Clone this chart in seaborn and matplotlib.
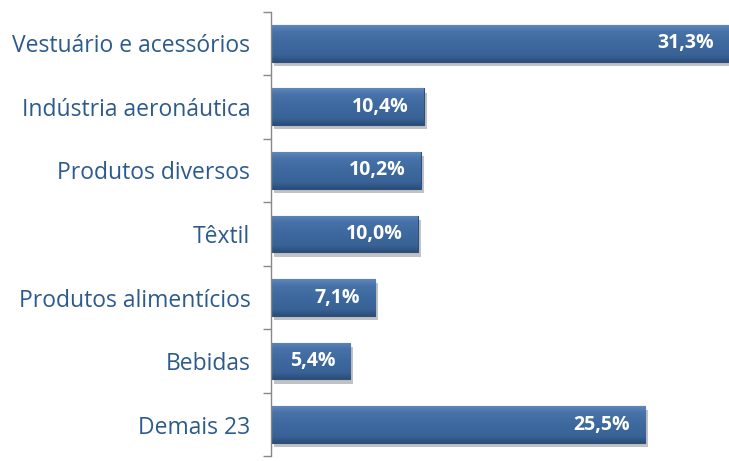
import matplotlib
matplotlib.use("Agg")
import matplotlib.pyplot as plt
import matplotlib.patheffects as pe
import matplotlib.transforms as mtrans
import seaborn as sns
import pandas as pd
import numpy as np

categories = ["Vestuário e acessórios", "Indústria aeronáutica", "Produtos diversos",
              "Têxtil", "Produtos alimentícios", "Bebidas", "Demais 23"]
shares = [31.3, 10.4, 10.2, 10.0, 7.1, 5.4, 25.5]
labels = ["31,3%", "10,4%", "10,2%", "10,0%", "7,1%", "5,4%", "25,5%"]

df = pd.DataFrame({"categoria": categories, "share": shares})

sns.set_style("white")
plt.rcParams["font.family"] = ["Open Sans", "DejaVu Sans"]

fig = plt.figure(figsize=(7.29, 4.61), dpi=100)
ax = fig.add_axes([0.372, 0.01, 0.628, 0.965])

sns.barplot(data=df, y="categoria", x="share", orient="h", color="#3c679c",
            saturation=1, width=0.58, edgecolor="#2c4f7c", linewidth=0.8, ax=ax)

# soft bevel look: vertical gradient clipped to each bar
grad = np.linspace(0, 1, 50).reshape(-1, 1)
cmap = matplotlib.colors.LinearSegmentedColormap.from_list(
    "bev", [(0.0, "#5d86ba"), (0.18, "#4672a8"), (0.5, "#3d699f"),
            (0.82, "#396396"), (1.0, "#2b4e7b")])
for bar in ax.patches:
    bar.set_path_effects([pe.SimplePatchShadow(offset=(2, -3), shadow_rgbFace="#9a9a9a", alpha=0.6),
                          pe.Normal()])
    x0, y0, w, h = bar.get_x(), bar.get_y(), bar.get_width(), bar.get_height()
    im = ax.imshow(grad, cmap=cmap, aspect="auto", extent=(x0, x0 + w, y0 + h, y0),
                   interpolation="bilinear", zorder=bar.get_zorder() + 0.1)
    im.set_clip_path(bar)

off = mtrans.offset_copy(ax.transData, fig=fig, x=-15, y=0, units="dots")
for i, (v, lab) in enumerate(zip(shares, labels)):
    x = min(v, 31.2)
    ax.text(x, i, lab, ha="right", va="center", color="white", transform=off,
            fontsize=14, fontweight="bold", zorder=5)

ax.set_xlim(0, 31.2)
ax.set_ylim(len(categories) - 0.5, -0.5)
ax.set_xlabel("")
ax.set_ylabel("")
ax.set_xticks([])
ax.tick_params(axis="y", which="major", left=False, length=0, pad=15,
               labelsize=16.5, labelcolor="#2c5a8e")
ax.set_yticks(np.arange(-0.5, len(categories) + 0.5, 1), minor=True)
ax.tick_params(axis="y", which="minor", left=True, length=6, width=1,
               color="#888888", direction="out")
for s in ["top", "right", "bottom"]:
    ax.spines[s].set_visible(False)
ax.spines["left"].set_color("#888888")
ax.spines["left"].set_linewidth(1)

fig.savefig("out.png", dpi=100)
